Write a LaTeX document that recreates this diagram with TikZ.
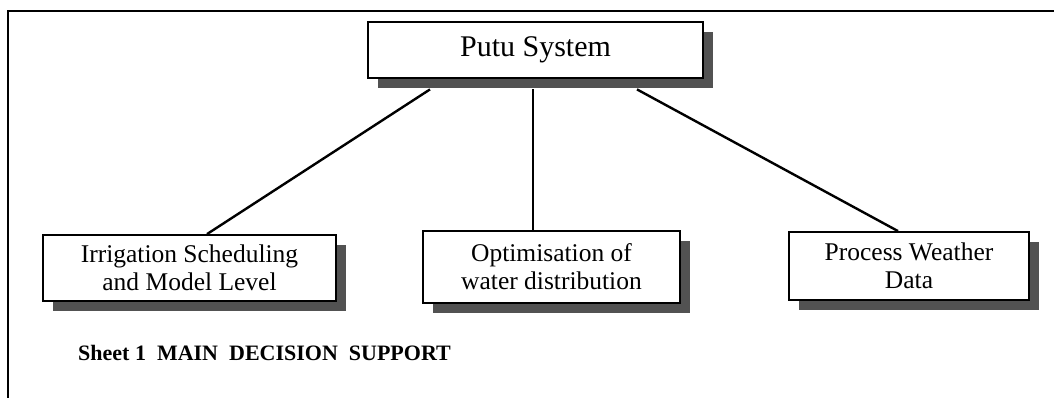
\documentclass[tikz,border=0pt]{standalone}
\usepackage{fontspec}
\setmainfont{Liberation Serif}
\usetikzlibrary{shadows}
\begin{document}
\begin{tikzpicture}[x=1pt,y=-1pt,
  boxshadow/.style={drop shadow={shadow xshift=10pt, shadow yshift=-10pt, fill=black!68, opacity=1}},
  topbox/.style={draw=black, line width=2.8pt, fill=white, align=center, inner sep=0pt,
    boxshadow, font=\fontsize{30}{34}\selectfont},
  subbox/.style={draw=black, line width=1.8pt, fill=white, align=center, inner sep=0pt,
    boxshadow, font=\fontsize{25.5}{28}\selectfont},
  link/.style={draw=black, line width=2.4pt},
  frameline/.style={draw=black, line width=2pt}]
\useasboundingbox (0,0) rectangle (1054,398);

% outer frame (runs off the right and bottom edges)
\draw[frameline] (8,410) -- (8,11) -- (1070,11);

% boxes
\node[topbox, minimum width=335pt, minimum height=56pt] (putu) at (535.5,50) {Putu System};
\node[subbox, minimum width=293pt, minimum height=66pt] (irr) at (189.5,268)
  {Irrigation Scheduling\\and Model Level};
\node[subbox, minimum width=257pt, minimum height=72pt] (opt) at (551.5,267)
  {Optimisation of\\water distribution};
\node[subbox, minimum width=240pt, minimum height=68pt] (wth) at (909,266)
  {Process Weather\\Data};

% connectors from the top box to the three sub-systems
\draw[link] ([xshift=-105.5pt,yshift=-10pt]putu.south) -- ([xshift=17.5pt]irr.north);
\draw[link] ([xshift=-2.5pt,yshift=-10pt]putu.south) -- ([xshift=-18.5pt]opt.north);
\draw[link] ([xshift=101.5pt,yshift=-10pt]putu.south) -- ([xshift=-11pt]wth.north);

% caption
\node[anchor=base west, inner sep=0pt, font=\bfseries\fontsize{22}{26}\selectfont] (cap) at (78,360)
  {Sheet 1\ \ MAIN\ \ DECISION\ \ SUPPORT};
\end{tikzpicture}
\end{document}
